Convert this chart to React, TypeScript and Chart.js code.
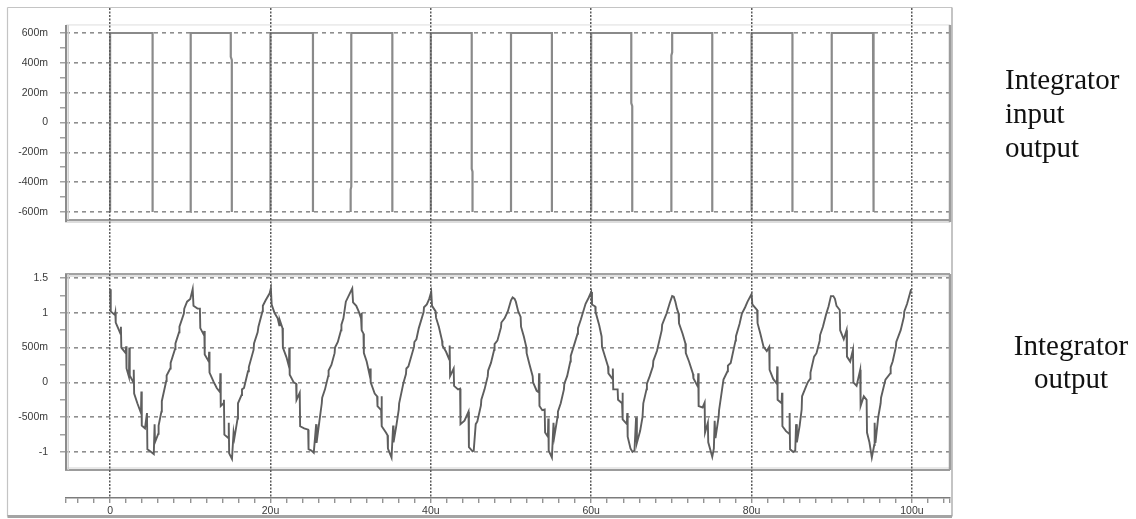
import React, { useEffect, useRef } from 'react';
import { Chart, registerables } from 'chart.js';

Chart.register(...registerables);

// ---- axis tick values / labels ----
const timeMajorTicks = [0, 20, 40, 60, 80, 100];
const timeTickLabels = ['0', '20u', '40u', '60u', '80u', '100u'];

const inputTickValues = [0.6, 0.4, 0.2, 0, -0.2, -0.4, -0.6];
const inputTickLabels = ['600m', '400m', '200m', '0', '-200m', '-400m', '-600m'];
const inputMinorTicks = [0.6, 0.5, 0.4, 0.3, 0.2, 0.1, 0, -0.1, -0.2, -0.3, -0.4, -0.5, -0.6];

const outputTickValues = [1.5, 1, 0.5, 0, -0.5, -1];
const outputTickLabels = ['1.5', '1', '500m', '0', '-500m', '-1'];
const outputMinorTicks = [1.5, 1.25, 1, 0.75, 0.5, 0.25, 0, -0.25, -0.5, -0.75, -1];

// ---- axis ranges (microseconds / volts) ----
const X_MIN = -5.5;
const X_MAX = 104.75;
const TOP_MIN = -0.8279;
const TOP_MAX = 0.7676;
const BOT_MIN = -1.661;
const BOT_MAX = 1.9598;
const TOP_FRAME = [0.654, -0.654];
const BOT_FRAME = [1.557, -1.259];

// ---- Integrator input (square wave, low level not visible in the plot) ----
const inputTrace: [number, number | null][] = [
  [0, -0.6], [0, 0.6], [5.3, 0.6], [5.3, -0.6], [7.5, null],
  [10, -0.6], [10, -0.45], [10.08, -0.43], [10.08, 0.6], [15.05, 0.6], [15.05, 0.44], [15.18, 0.42], [15.18, -0.6], [17.5, null],
  [20, -0.6], [20, 0.6], [25.3, 0.6], [25.3, -0.6], [27.5, null],
  [30, -0.6], [30, -0.45], [30.08, -0.43], [30.08, 0.6], [35.2, 0.6], [35.2, -0.6], [37.5, null],
  [40, -0.6], [40, 0.6], [45.1, 0.6], [45.1, -0.31], [45.2, -0.33], [45.2, -0.6], [47.5, null],
  [50, -0.6], [50, 0.6], [55.1, 0.6], [55.1, -0.6], [57.5, null],
  [60, -0.6], [60, 0.6], [65.0, 0.6], [65.0, 0.13], [65.12, 0.11], [65.12, -0.6], [67.5, null],
  [70, -0.6], [70, 0.45], [70.1, 0.47], [70.1, 0.6], [75.1, 0.6], [75.1, -0.6], [77.5, null],
  [80, -0.6], [80, 0.6], [85.1, 0.6], [85.1, -0.6], [87.5, null],
  [90, -0.6], [90, 0.6], [95.15, 0.6], [95.15, -0.17], [95.25, -0.19], [95.25, -0.6],
];

// ---- Integrator output (jagged triangle) ----
const outputTrace: [number, number][] = [
  [0, 1.34], [0.08, 1.02], [0.6, 0.97], [0.65, 1.0], [0.7, 0.86], [1.3, 0.7], [1.35, 0.8], [1.4, 0.5], [1.95, 0.42], [2.0, 0.52], [2.05, 0.2], [2.35, 0.08], [2.4, 0.5], [2.45, 0.1], [2.9, 0.0], [2.95, 0.18], [3.0, -0.16], [3.4, -0.3], [3.85, -0.44], [3.9, -0.13], [3.95, -0.62], [4.35, -0.66], [4.6, -0.44], [4.65, -0.96], [5.0, -0.99], [5.45, -1.03],
  [5.55, -0.6], [5.6, -0.86], [6.0, -0.74], [6.05, -0.62], [6.4, -0.42], [6.45, -0.27], [7.0, 0.02], [7.05, 0.1], [7.5, 0.2], [7.55, 0.28], [8.1, 0.48], [8.15, 0.56], [8.6, 0.72], [8.65, 0.8], [9.2, 0.99], [9.25, 1.06], [9.6, 1.16], [10.0, 1.2], [10.3, 1.34],
  [10.4, 1.1], [10.9, 1.06], [11.2, 1.06], [11.25, 0.78], [11.7, 0.68], [11.75, 0.74], [11.8, 0.4], [12.3, 0.3], [12.35, 0.44], [12.4, 0.14], [12.9, 0.01], [13.3, -0.08], [13.7, -0.14], [13.75, 0.13], [13.8, -0.34], [14.15, -0.3], [14.2, -0.25], [14.25, -0.75], [14.75, -0.8], [14.8, -0.58], [14.85, -1.02], [15.2, -1.1],
  [15.4, -0.72], [15.5, -0.8], [15.9, -0.52], [15.95, -0.3], [16.4, -0.18], [16.45, -0.1], [16.7, -0.08], [17.2, 0.16], [17.3, 0.22], [17.9, 0.47], [17.95, 0.56], [18.4, 0.72], [18.5, 0.8], [19.0, 1.02], [19.05, 1.1], [19.4, 1.18], [19.9, 1.28], [20.05, 1.35],
  [20.15, 1.12], [20.5, 1.0], [20.9, 0.92], [21.1, 0.82], [21.15, 0.9], [21.5, 0.78], [21.55, 0.5], [22.0, 0.36], [22.3, 0.23], [22.35, 0.5], [22.4, 0.11], [22.9, 0.0], [23.2, -0.02], [23.25, -0.25], [23.65, -0.15], [23.7, -0.63], [24.2, -0.66], [24.7, -0.68], [24.75, -0.96], [25.1, -0.98], [25.4, -1.01],
  [25.7, -0.6], [25.75, -0.87], [26.1, -0.56], [26.4, -0.3], [26.45, -0.22], [26.8, -0.1], [27.2, 0.09], [27.25, 0.17], [27.6, 0.25], [28.0, 0.42], [28.05, 0.5], [28.4, 0.58], [28.8, 0.75], [28.85, 0.83], [29.1, 0.92], [29.4, 1.16], [29.9, 1.28], [30.2, 1.35],
  [30.3, 1.15], [30.7, 1.1], [31.0, 1.02], [31.3, 0.92], [31.35, 1.0], [31.4, 0.75], [31.6, 0.7], [31.65, 0.42], [32.0, 0.3], [32.4, 0.09], [32.45, 0.2], [32.5, 0.0], [33.0, -0.16], [33.3, -0.2], [33.35, -0.34], [33.8, -0.4], [33.85, -0.2], [33.9, -0.63], [34.4, -0.72], [34.6, -0.76], [34.65, -0.95], [35.1, -1.08],
  [35.3, -0.62], [35.35, -0.86], [35.7, -0.62], [36.0, -0.39], [36.05, -0.3], [36.6, 0.0], [36.9, 0.12], [36.95, 0.2], [37.2, 0.23], [37.9, 0.51], [37.95, 0.58], [38.2, 0.62], [38.5, 0.78], [39.1, 1.01], [39.15, 1.08], [39.5, 1.12], [39.8, 1.2], [40.05, 1.3],
  [40.15, 1.1], [40.6, 1.02], [40.65, 0.93], [41.0, 0.8], [41.4, 0.6], [41.45, 0.53], [41.9, 0.44], [42.3, 0.33], [42.35, 0.53], [42.4, 0.09], [42.85, 0.2], [42.9, -0.05], [43.4, -0.1], [43.65, -0.09], [43.7, -0.6], [44.2, -0.55], [44.7, -0.42], [44.75, -0.93], [45.2, -0.99],
  [45.35, -0.98], [45.6, -0.6], [45.8, -0.56], [46.25, -0.33], [46.3, -0.25], [46.7, -0.1], [47.1, 0.09], [47.15, 0.17], [47.5, 0.28], [47.9, 0.47], [47.95, 0.55], [48.3, 0.6], [48.75, 0.79], [48.8, 0.86], [49.2, 0.92], [49.6, 1.02], [50.0, 1.18], [50.2, 1.22], [50.45, 1.2],
  [50.6, 1.16], [50.9, 1.02], [51.2, 0.94], [51.25, 0.8], [51.6, 0.66], [51.9, 0.51], [51.95, 0.42], [52.3, 0.26], [52.7, 0.09], [52.75, 0.0], [53.2, -0.12], [53.45, -0.14], [53.5, 0.13], [53.55, -0.34], [53.9, -0.4], [54.2, -0.39], [54.25, -0.72], [54.6, -0.78], [54.65, -0.52], [54.7, -0.98], [55.1, -1.08],
  [55.3, -0.58], [55.4, -0.78], [55.8, -0.5], [55.85, -0.42], [56.2, -0.3], [56.6, -0.1], [56.65, -0.02], [57.0, 0.09], [57.4, 0.3], [57.45, 0.38], [57.8, 0.51], [58.3, 0.7], [58.35, 0.78], [58.7, 0.9], [59.3, 1.13], [59.7, 1.22], [60.0, 1.3],
  [60.1, 1.12], [60.5, 1.09], [60.55, 1.01], [61.0, 0.82], [61.3, 0.66], [61.35, 0.51], [61.7, 0.38], [62.1, 0.23], [62.15, 0.13], [62.65, 0.05], [62.7, 0.2], [62.75, -0.1], [63.3, -0.1], [63.35, -0.25], [63.85, -0.3], [63.9, -0.15], [63.95, -0.53], [64.45, -0.6], [64.5, -0.44], [64.55, -0.78], [64.9, -0.95], [65.15, -1.0],
  [65.4, -0.98], [65.6, -0.5], [65.7, -0.87], [66.1, -0.7], [66.4, -0.5], [66.5, -0.3], [66.9, -0.1], [66.95, -0.02], [67.3, 0.09], [67.7, 0.23], [67.75, 0.31], [68.2, 0.45], [68.8, 0.75], [68.85, 0.83], [69.4, 0.99], [69.8, 1.14], [70.1, 1.24], [70.3, 1.23], [70.5, 1.16],
  [70.7, 1.06], [70.9, 0.99], [70.95, 0.85], [71.4, 0.7], [71.75, 0.56], [71.8, 0.42], [72.2, 0.3], [72.7, 0.12], [72.75, 0.06], [73.3, -0.06], [73.35, 0.13], [73.4, -0.34], [73.9, -0.36], [74.15, -0.29], [74.2, -0.72], [74.55, -0.58], [74.6, -0.86], [75.1, -1.07],
  [75.3, -0.95], [75.4, -0.55], [75.5, -0.8], [75.9, -0.49], [75.95, -0.4], [76.5, 0.04], [77.0, 0.16], [77.05, 0.24], [77.4, 0.28], [78.0, 0.6], [78.05, 0.66], [78.5, 0.84], [78.8, 0.99], [79.2, 1.08], [79.5, 1.16], [80.0, 1.27],
  [80.1, 1.12], [80.7, 1.04], [80.75, 0.85], [81.1, 0.7], [81.5, 0.51], [81.9, 0.45], [82.2, 0.51], [82.25, 0.18], [82.7, 0.05], [83.15, -0.02], [83.2, 0.23], [83.25, -0.25], [83.75, -0.3], [83.8, -0.15], [83.85, -0.63], [84.3, -0.7], [84.7, -0.74], [84.75, -0.44], [84.8, -0.96], [85.2, -1.0],
  [85.45, -0.98], [85.55, -0.6], [85.65, -0.86], [86.0, -0.62], [86.25, -0.39], [86.3, -0.2], [87.0, 0.0], [87.3, 0.05], [87.35, 0.14], [87.8, 0.37], [88.1, 0.42], [88.5, 0.6], [88.55, 0.68], [88.9, 0.8], [89.3, 0.98], [89.6, 1.09], [89.9, 1.24], [90.2, 1.24], [90.4, 1.2],
  [90.6, 1.1], [91.0, 1.04], [91.05, 0.75], [91.5, 0.62], [91.85, 0.75], [91.9, 0.37], [92.3, 0.3], [92.65, 0.47], [92.7, 0.0], [93.1, -0.05], [93.55, 0.18], [93.6, -0.34], [94.0, -0.2], [94.35, -0.25], [94.4, -0.72], [94.7, -0.86], [95.0, -1.08],
  [95.3, -0.9], [95.35, -0.58], [95.45, -0.87], [95.8, -0.5], [96.1, -0.3], [96.15, -0.22], [96.7, 0.04], [97.3, 0.13], [97.35, 0.22], [97.6, 0.3], [98.0, 0.51], [98.05, 0.58], [98.6, 0.75], [99.0, 0.94], [99.05, 1.02], [99.4, 1.13], [99.9, 1.34],
];

// x tick positions (minor every 2u, plus the plot edges)
const xTickValues: number[] = [X_MIN];
for (let v = -4; v <= 104; v += 2) xTickValues.push(v);
xTickValues.push(X_MAX);

const tickFont = { family: '"Liberation Sans", Arial, sans-serif', size: 10.5 };

const framePlugin = {
  id: 'panelFrames',
  beforeDatasetsDraw(chart: any) {
    const { ctx, chartArea, scales } = chart;
    const l = chartArea.left;
    const r = chartArea.right;
    const yT = scales.yTop;
    const yB = scales.yBottom;
    const tTop = yT.getPixelForValue(TOP_FRAME[0]);
    const tBot = yT.getPixelForValue(TOP_FRAME[1]);
    const bTop = yB.getPixelForValue(BOT_FRAME[0]);
    const bBot = yB.getPixelForValue(BOT_FRAME[1]);
    const line = (x1: number, y1: number, x2: number, y2: number, c: string, w: number) => {
      ctx.beginPath();
      ctx.strokeStyle = c;
      ctx.lineWidth = w;
      ctx.moveTo(x1, y1);
      ctx.lineTo(x2, y2);
      ctx.stroke();
    };
    ctx.save();
    // outer figure frame
    const oL = l - 58.5, oR = r + 2, oT = chartArea.top - 0.5, oB = chart.height - 2.5;
    line(oL, oT, oR, oT, '#c4c4c4', 1.2);
    line(oL, oT, oL, oB, '#c4c4c4', 1.2);
    line(oR, oT, oR, oB, '#b0b0b0', 1.5);
    line(oL, oB, oR, oB, '#a4a4a4', 3);
    // top panel
    line(l, tTop, r, tTop, '#dedede', 1);
    line(l - 1, tBot, r, tBot, '#9c9c9c', 2);
    line(l - 1, tBot + 2, r, tBot + 2, '#d2d2d2', 1.5);
    line(l, tTop, l, tBot + 2, '#8c8c8c', 2);
    line(l + 2.2, tTop, l + 2.2, tBot, '#cfcfcf', 1.5);
    line(r, tTop, r, tBot + 2, '#9c9c9c', 2.5);
    // bottom panel
    line(l - 1, bTop, r, bTop, '#a2a2a2', 2);
    line(l, bTop + 2, r, bTop + 2, '#d4d4d4', 1.5);
    line(l - 1, bBot, r, bBot, '#9c9c9c', 2);
    line(l, bBot - 2, r, bBot - 2, '#d4d4d4', 1.2);
    line(l, bTop, l, bBot, '#8c8c8c', 2);
    line(l + 2.2, bTop, l + 2.2, bBot, '#cfcfcf', 1.5);
    line(r, bTop, r, bBot, '#9c9c9c', 2.5);
    ctx.restore();
  },
};

const pick = (vals: number[], labels: string[]) => (v: number | string) => {
  const i = vals.indexOf(Number(v));
  return i >= 0 ? labels[i] : '';
};

const noPad = (s: any) => {
  s.paddingTop = 0;
  s.paddingBottom = 0;
  s.paddingLeft = 0;
  s.paddingRight = 0;
};

const yGrid = (majors: number[]) => ({
  lineWidth: 1.6,
  color: (c: any) => (c.tick && majors.includes(c.tick.value) ? '#8e8e8e' : 'rgba(0,0,0,0)'),
  tickColor: '#8a8a8a',
  tickLength: 6,
  tickWidth: 1.2,
});

export default function App() {
  const canvasRef = useRef<HTMLCanvasElement | null>(null);

  useEffect(() => {
    const canvas = canvasRef.current;
    if (!canvas) return;
    const chart = new Chart(canvas, {
      type: 'line',
      data: {
        datasets: [
          {
            label: 'Integrator input',
            data: inputTrace.map(([x, y]) => ({ x, y })),
            xAxisID: 'x',
            yAxisID: 'yTop',
            borderColor: '#8a8a8a',
            borderWidth: 2.2,
            pointRadius: 0,
            tension: 0,
            spanGaps: false,
          },
          {
            label: 'Integrator output',
            data: outputTrace.map(([x, y]) => ({ x, y })),
            xAxisID: 'x',
            yAxisID: 'yBottom',
            borderColor: '#5e5e5e',
            borderWidth: 1.9,
            pointRadius: 0,
            tension: 0,
          },
        ],
      },
      options: {
        animation: false,
        responsive: false,
        events: [],
        layout: { padding: { left: 8, top: 8, right: 186, bottom: 0 } },
        plugins: { legend: { display: false }, tooltip: { enabled: false } },
        scales: {
          x: {
            type: 'linear',
            min: X_MIN,
            max: X_MAX,
            position: 'bottom',
            afterBuildTicks: (s: any) => {
              s.ticks = xTickValues.map((value) => ({ value }));
            },
            afterFit: (s: any) => {
              s.height = 21;
              noPad(s);
            },
            ticks: {
              autoSkip: false,
              maxRotation: 0,
              minRotation: 0,
              padding: 2,
              color: '#3a3a3a',
              font: tickFont,
              callback: pick(timeMajorTicks, timeTickLabels),
            },
            grid: {
              z: 1,
              lineWidth: 1.5,
              color: (c: any) =>
                c.tick && timeMajorTicks.includes(c.tick.value) ? '#5a5a5a' : 'rgba(0,0,0,0)',
              tickColor: '#808080',
              tickLength: 5,
              tickWidth: 1.2,
            },
            border: { display: true, z: 1, color: '#7c7c7c', width: 1.5, dash: [2, 1.5] },
          },
          yTop: {
            type: 'linear',
            position: 'left',
            stack: 'panels',
            stackWeight: 238,
            weight: 2,
            min: TOP_MIN,
            max: TOP_MAX,
            afterBuildTicks: (s: any) => {
              s.ticks = inputMinorTicks.map((value) => ({ value }));
            },
            afterFit: (s: any) => {
              s.width = 58;
              noPad(s);
            },
            ticks: {
              autoSkip: false,
              padding: 12,
              color: '#3a3a3a',
              font: tickFont,
              callback: pick(inputTickValues, inputTickLabels),
            },
            grid: yGrid(inputTickValues),
            border: { display: false, dash: [4, 4] },
          },
          yBottom: {
            type: 'linear',
            position: 'left',
            stack: 'panels',
            stackWeight: 252,
            weight: 1,
            min: BOT_MIN,
            max: BOT_MAX,
            afterBuildTicks: (s: any) => {
              s.ticks = outputMinorTicks.map((value) => ({ value }));
            },
            afterFit: (s: any) => {
              s.width = 58;
              noPad(s);
            },
            ticks: {
              autoSkip: false,
              padding: 12,
              color: '#3a3a3a',
              font: tickFont,
              callback: pick(outputTickValues, outputTickLabels),
            },
            grid: yGrid(outputTickValues),
            border: { display: false, dash: [4, 4] },
          },
        },
      } as any,
      plugins: [framePlugin],
    });
    return () => chart.destroy();
  }, []);

  const textStyle: React.CSSProperties = {
    position: 'absolute',
    fontFamily: '"Liberation Serif", "Times New Roman", serif',
    fontSize: '29px',
    color: '#111',
    whiteSpace: 'nowrap',
  };

  return (
    <div
      style={{
        position: 'absolute',
        left: 0,
        top: 0,
        width: 1136,
        height: 519,
        background: '#ffffff',
        overflow: 'hidden',
      }}
    >
      <canvas ref={canvasRef} width={1136} height={519} style={{ display: 'block' }} />
      <div style={{ ...textStyle, left: 1005, top: 62, lineHeight: '34px' }}>
        Integrator
        <br />
        input
        <br />
        output
      </div>
      <div
        style={{
          ...textStyle,
          left: 1010,
          width: 122,
          top: 329,
          lineHeight: '33px',
          textAlign: 'center',
        }}
      >
        Integrator
        <br />
        output
      </div>
    </div>
  );
}
